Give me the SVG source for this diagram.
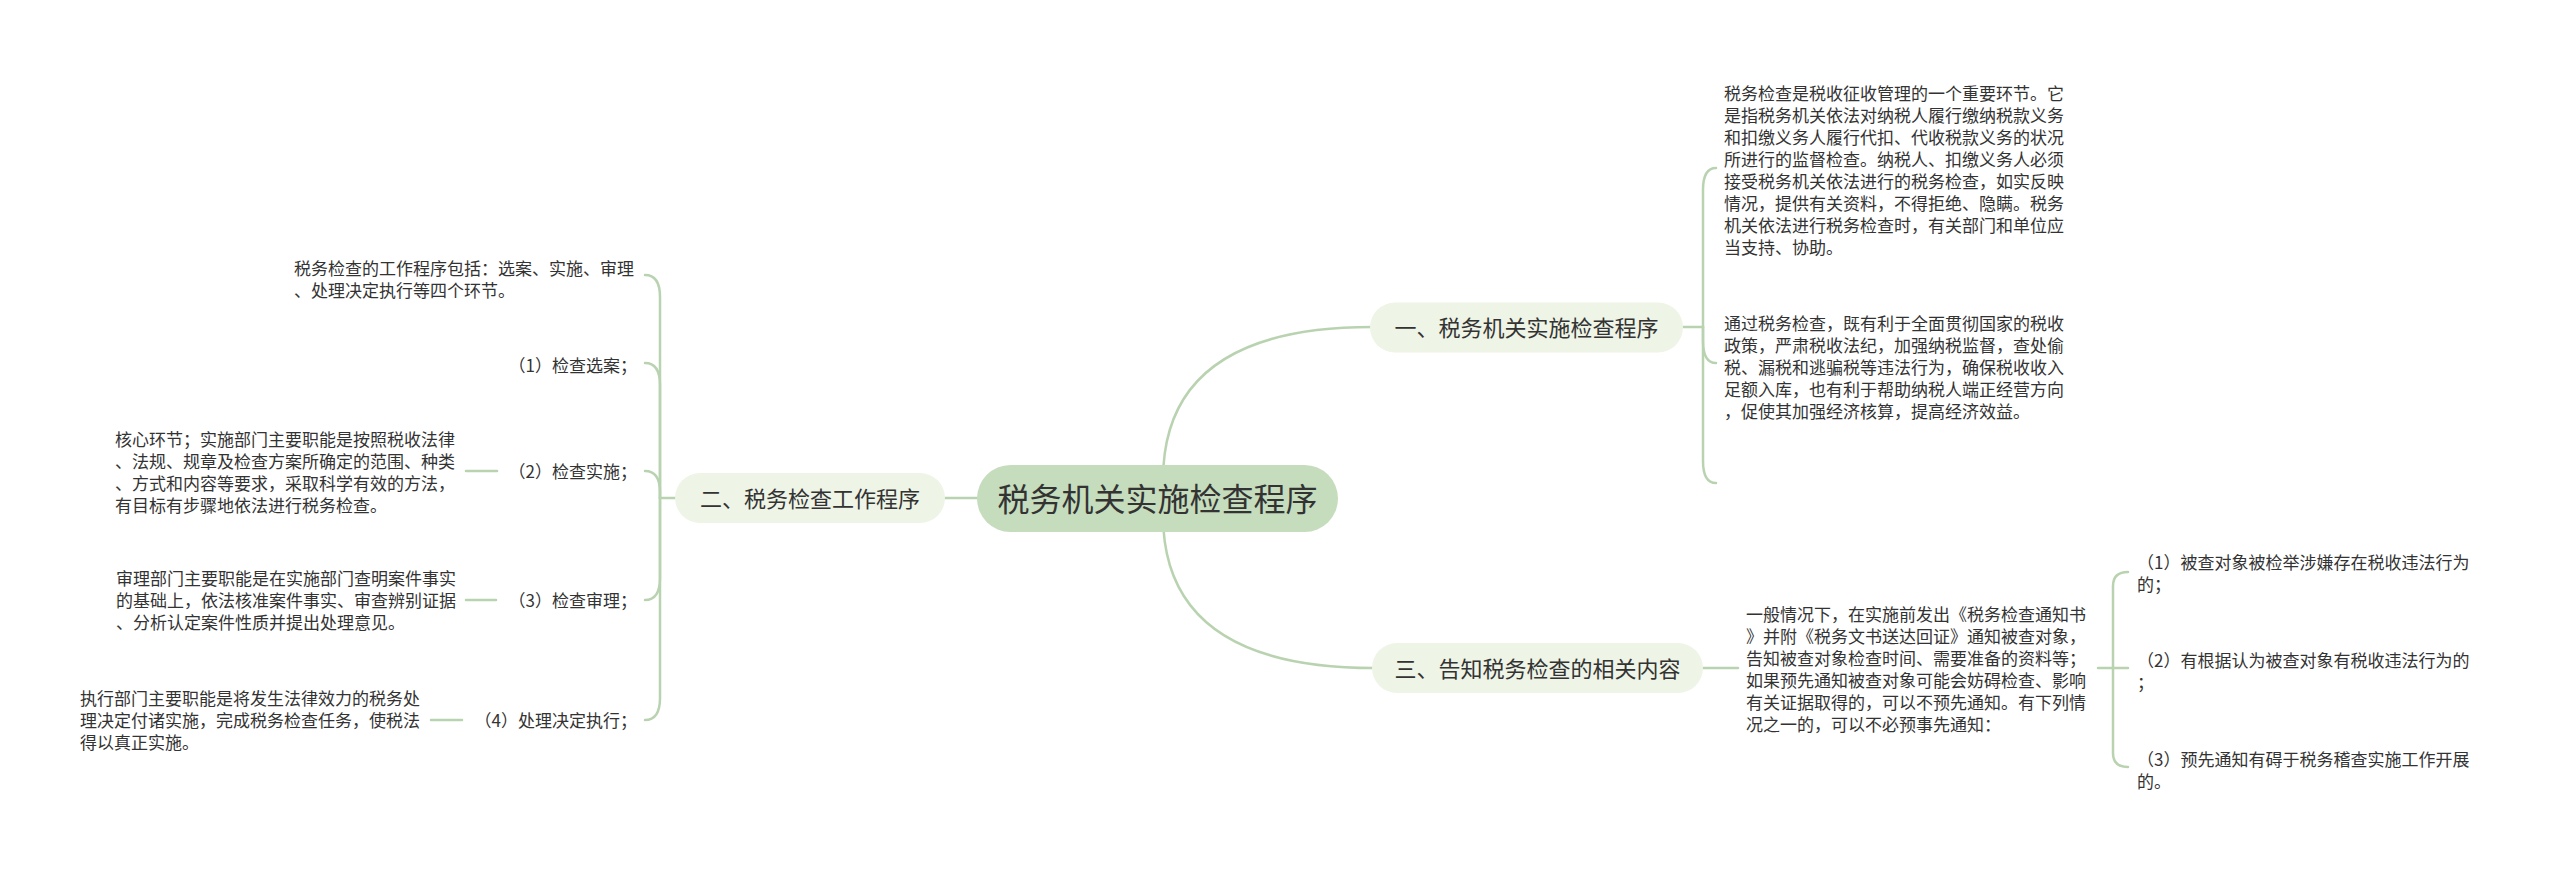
<svg xmlns="http://www.w3.org/2000/svg" width="2560" height="870" viewBox="0 0 2560 870">
<style>
text{font-family:"Noto Sans CJK SC","Microsoft YaHei",sans-serif;fill:#333;}
.body{font-size:17px;}
.lab{font-size:17px;text-anchor:end;}
.br{font-size:22px;text-anchor:middle;}
.root{font-size:32px;text-anchor:middle;}
.line{fill:none;stroke:#b9d3b1;stroke-width:2.5;stroke-linecap:round;}
.pill{fill:#eef4e6;}
.rootpill{fill:#c5dcbd;}
</style>
<rect width="2560" height="870" fill="#fff"/>
<g id="connectors">
<path class="line" d="M1163,480 Q1163,327 1372,327"/>
<path class="line" d="M1163,515 Q1163,668 1374,668"/>
<path class="line" d="M980,498 L943,498"/>
<path class="line" d="M1683,327 L1703,327"/>
<path class="line" d="M1703,327 L1703,190 Q1703,168 1716,168"/>
<path class="line" d="M1703,327 L1703,341 Q1703,363 1716,363"/>
<path class="line" d="M1703,327 L1703,461 Q1703,483 1716,483"/>
<path class="line" d="M677,498 L660,498"/>
<path class="line" d="M660,498 L660,297 Q660,275 645,275"/>
<path class="line" d="M660,498 L660,385 Q660,363 645,363"/>
<path class="line" d="M660,498 L660,492 Q660,471 645,471"/>
<path class="line" d="M660,498 L660,578 Q660,600 645,600"/>
<path class="line" d="M660,498 L660,698 Q660,720 645,720"/>
<path class="line" d="M466,471 L497,471"/>
<path class="line" d="M466,600 L496,600"/>
<path class="line" d="M431,720 L462,720"/>
<path class="line" d="M1703,668 L1738,668"/>
<path class="line" d="M2098,668 L2113,668"/>
<path class="line" d="M2113,668 L2128,668"/>
<path class="line" d="M2113,668 L2113,586 Q2113,572 2128,572"/>
<path class="line" d="M2113,668 L2113,753 Q2113,767 2128,767"/>
</g>
<g id="root">
<rect class="rootpill" x="977" y="465" width="361" height="67" rx="33.5"/>
<text class="root" x="1157.5" y="510.5">税务机关实施检查程序</text>
</g>
<g id="branch1">
<rect class="pill" x="1370" y="302.5" width="313" height="50" rx="25"/>
<text class="br" x="1526.5" y="336">一、税务机关实施检查程序</text>
</g>
<g id="branch1-text1">
<text class="body" x="1724" y="99.5">税务检查是税收征收管理的一个重要环节。它</text>
<text class="body" x="1724" y="121.5">是指税务机关依法对纳税人履行缴纳税款义务</text>
<text class="body" x="1724" y="143.5">和扣缴义务人履行代扣、代收税款义务的状况</text>
<text class="body" x="1724" y="165.5">所进行的监督检查。纳税人、扣缴义务人必须</text>
<text class="body" x="1724" y="187.5">接受税务机关依法进行的税务检查，如实反映</text>
<text class="body" x="1724" y="209.5">情况，提供有关资料，不得拒绝、隐瞒。税务</text>
<text class="body" x="1724" y="231.5">机关依法进行税务检查时，有关部门和单位应</text>
<text class="body" x="1724" y="253.5">当支持、协助。</text>
</g>
<g id="branch1-text2">
<text class="body" x="1724" y="329.5">通过税务检查，既有利于全面贯彻国家的税收</text>
<text class="body" x="1724" y="351.5">政策，严肃税收法纪，加强纳税监督，查处偷</text>
<text class="body" x="1724" y="373.5">税、漏税和逃骗税等违法行为，确保税收收入</text>
<text class="body" x="1724" y="395.5">足额入库，也有利于帮助纳税人端正经营方向</text>
<text class="body" x="1724" y="417.5">，促使其加强经济核算，提高经济效益。</text>
</g>
<g id="branch2">
<rect class="pill" x="675" y="473" width="270" height="50" rx="25"/>
<text class="br" x="810" y="506.5">二、税务检查工作程序</text>
</g>
<g id="branch2-intro">
<text class="body" x="294" y="274.5">税务检查的工作程序包括：选案、实施、审理</text>
<text class="body" x="294" y="296.5">、处理决定执行等四个环节。</text>
</g>
<g id="step1">
<text class="lab" x="637" y="371.5">（1）检查选案；</text>
</g>
<g id="step2">
<text class="lab" x="637" y="477.5">（2）检查实施；</text>
</g>
<g id="step2-text">
<text class="body" x="115" y="445.5">核心环节；实施部门主要职能是按照税收法律</text>
<text class="body" x="115" y="467.5">、法规、规章及检查方案所确定的范围、种类</text>
<text class="body" x="115" y="489.5">、方式和内容等要求，采取科学有效的方法，</text>
<text class="body" x="115" y="511.5">有目标有步骤地依法进行税务检查。</text>
</g>
<g id="step3">
<text class="lab" x="637" y="606.5">（3）检查审理；</text>
</g>
<g id="step3-text">
<text class="body" x="116" y="584.5">审理部门主要职能是在实施部门查明案件事实</text>
<text class="body" x="116" y="606.5">的基础上，依法核准案件事实、审查辨别证据</text>
<text class="body" x="116" y="628.5">、分析认定案件性质并提出处理意见。</text>
</g>
<g id="step4">
<text class="lab" x="637" y="726.5">（4）处理决定执行；</text>
</g>
<g id="step4-text">
<text class="body" x="80" y="704.5">执行部门主要职能是将发生法律效力的税务处</text>
<text class="body" x="80" y="726.5">理决定付诸实施，完成税务检查任务，使税法</text>
<text class="body" x="80" y="748.5">得以真正实施。</text>
</g>
<g id="branch3">
<rect class="pill" x="1372" y="643" width="331" height="50" rx="25"/>
<text class="br" x="1537.5" y="676.5">三、告知税务检查的相关内容</text>
</g>
<g id="branch3-text">
<text class="body" x="1746" y="620.5">一般情况下，在实施前发出《税务检查通知书</text>
<text class="body" x="1746" y="642.5">》并附《税务文书送达回证》通知被查对象，</text>
<text class="body" x="1746" y="664.5">告知被查对象检查时间、需要准备的资料等；</text>
<text class="body" x="1746" y="686.5">如果预先通知被查对象可能会妨碍检查、影响</text>
<text class="body" x="1746" y="708.5">有关证据取得的，可以不预先通知。有下列情</text>
<text class="body" x="1746" y="730.5">况之一的，可以不必预事先通知：</text>
</g>
<g id="case1">
<text class="body" x="2137" y="568.5">（1）被查对象被检举涉嫌存在税收违法行为</text>
<text class="body" x="2137" y="590.5">的；</text>
</g>
<g id="case2">
<text class="body" x="2137" y="666.5">（2）有根据认为被查对象有税收违法行为的</text>
<text class="body" x="2137" y="688.5">；</text>
</g>
<g id="case3">
<text class="body" x="2137" y="765.5">（3）预先通知有碍于税务稽查实施工作开展</text>
<text class="body" x="2137" y="787.5">的。</text>
</g>
</svg>
